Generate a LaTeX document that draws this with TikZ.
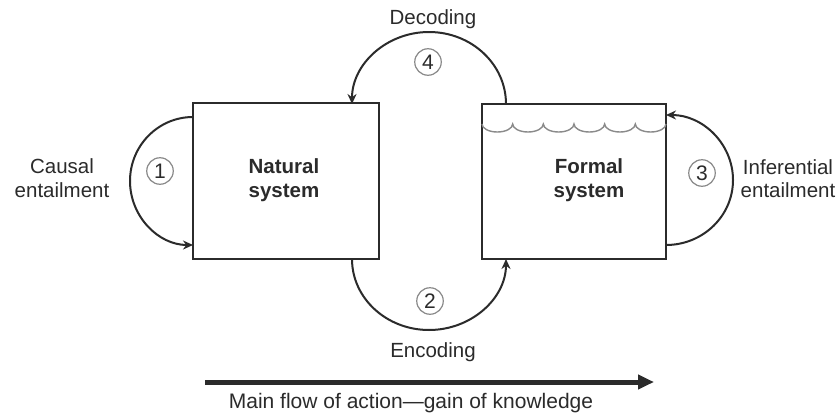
\documentclass[tikz,border=0pt]{standalone}
\usepackage{fontspec}
\setmainfont{Liberation Sans}
\usetikzlibrary{calc,arrows.meta}
\definecolor{ink}{HTML}{2B2B2B}
\definecolor{soft}{HTML}{8A8A8A}
\begin{document}
\begin{tikzpicture}[x=1pt,y=-1pt,
  sysbox/.style={draw=ink,line width=2.6pt,rectangle,inner sep=0pt,outer sep=0pt},
  arr/.style={draw=ink,line width=2pt,-{Stealth[length=10pt,width=9pt]}},
  num/.style={circle,draw=soft,line width=1.2pt,minimum size=26.5pt,inner sep=0pt,text=ink,font=\fontsize{21}{21}\selectfont},
  lbl/.style={text=ink,font=\fontsize{20.5}{23.5}\selectfont,align=center,inner sep=0pt},
  bold/.style={lbl,font=\fontsize{20.5}{24}\selectfont\bfseries},
  wavy/.style={draw=soft,line width=1.4pt},
  mainarr/.style={draw=ink,line width=5pt,-{Triangle[length=16pt,width=14pt]}}]
\useasboundingbox (0,0) rectangle (840,415);
\fill[white] (0,0) rectangle (840,415);
% boxes
\node[sysbox,minimum width=186pt,minimum height=156pt] (nat) at (286,181) {};
\node[sysbox,minimum width=184pt,minimum height=155pt] (form) at (574,181.5) {};
% box labels
\node[bold,anchor=base] (natA) at (284,173) {Natural};
\node[bold,anchor=base] (natB) at (284,197) {system};
\node[bold,anchor=base] (forA) at (589,173) {Formal};
\node[bold,anchor=base] (forB) at (589,197) {system};
% wavy line
\draw[wavy] ($(form.north west)+(0,20)$)
  foreach \i in {1,...,6} { arc[start angle=180,end angle=0,x radius=15.33,y radius=8] };
% arcs
\draw[arr] ($(nat.north west)+(0,14)$) arc[start angle=-90,end angle=-270,x radius=63,y radius=64];
\draw[arr] ($(nat.south east)+(-27,0)$) arc[start angle=180,end angle=0,x radius=77,y radius=71];
\draw[arr] ($(form.south east)+(0,-14)$) arc[start angle=90,end angle=-90,x radius=67,y radius=65];
\draw[arr] ($(form.north west)+(24,0)$) arc[start angle=0,end angle=-180,x radius=77,y radius=72];
% numbered circles
\node[num] (n1) at (160,171) {1};
\node[num] (n2) at (430,301) {2};
\node[num] (n3) at (702,173) {3};
\node[num] (n4) at (428,62) {4};
% labels
\node[lbl,anchor=base] (causA) at (62,173) {Causal};
\node[lbl,anchor=base] (causB) at (62,197) {entailment};
\node[lbl,anchor=base] (infA) at (788,174) {Inferential};
\node[lbl,anchor=base] (infB) at (788,197) {entailment};
\node[lbl,anchor=base] (dec) at (433,24) {Decoding};
\node[lbl,anchor=base] (enc) at (433,357) {Encoding};
% main flow arrow
\coordinate (fs) at (205,382);
\coordinate (fe) at (654,382);
\draw[mainarr] (fs) -- (fe);
\node[lbl,anchor=base,font=\fontsize{21}{24}\selectfont] (flow) at (411,408) {Main flow of action---gain of knowledge};
\end{tikzpicture}
\end{document}
